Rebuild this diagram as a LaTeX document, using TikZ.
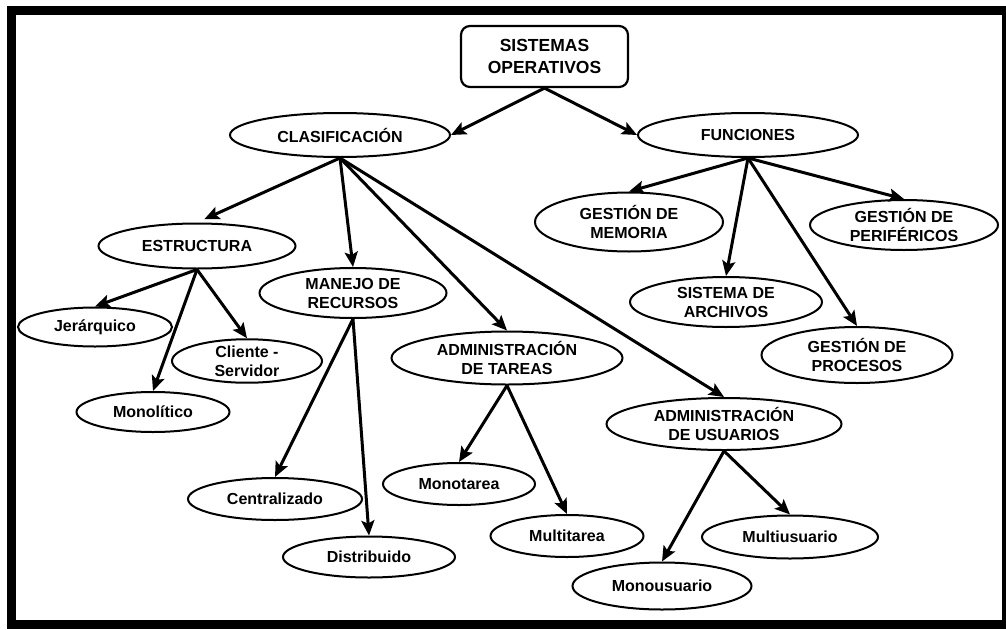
\documentclass[tikz,border=0pt]{standalone}
\usepackage{fontspec}
\setmainfont{Liberation Sans}
\usetikzlibrary{shapes.geometric,arrows.meta}
\begin{document}
\begin{tikzpicture}[x=1pt,y=-1pt,
  ov/.style={ellipse,draw=black,line width=2pt,inner sep=0pt,align=center,
    font=\fontsize{16}{19}\selectfont\bfseries},
  topbox/.style={rectangle,rounded corners=9pt,draw=black,line width=2.2pt,inner sep=0pt,
    align=center,font=\fontsize{17.5}{22}\selectfont\bfseries},
  arr/.style={line width=3pt,-{Stealth[length=15pt,width=13pt,inset=3pt]}},
]
\useasboundingbox (0,0) rectangle (1006,629);
\fill[white] (0,0) rectangle (1006,629);
% frame
\fill[black] (7,6) rectangle (1006,629);
\fill[white] (16,15) rectangle (1001.5,620);

% nodes
\node[topbox,minimum width=167pt,minimum height=61pt] (sis) at (544.5,56.5) {SISTEMAS\\OPERATIVOS};
\node[ov,minimum width=220pt,minimum height=44pt] (clas) at (340,135) {CLASIFICACIÓN};
\node[ov,minimum width=220pt,minimum height=44pt] (func) at (748,135) {FUNCIONES};

\node[ov,minimum width=197pt,minimum height=45pt] (estr) at (197,246) {ESTRUCTURA};
\node[ov,minimum width=154pt,minimum height=39pt] (jer) at (95,327) {Jerárquico};
\node[ov,minimum width=150pt,minimum height=42pt] (cli) at (247,361) {Cliente -\\Servidor};
\node[ov,minimum width=153pt,minimum height=40pt] (monol) at (153,412) {Monolítico};

\node[ov,minimum width=187pt,minimum height=50pt] (man) at (353,293) {MANEJO DE\\RECURSOS};
\node[ov,minimum width=174pt,minimum height=42pt] (cent) at (275,499) {Centralizado};
\node[ov,minimum width=172pt,minimum height=41pt] (dist) at (369,557) {Distribuido};

\node[ov,minimum width=231pt,minimum height=53pt] (adt) at (507,358) {ADMINISTRACIÓN\\DE TAREAS};
\node[ov,minimum width=152pt,minimum height=42pt] (motar) at (459,484) {Monotarea};
\node[ov,minimum width=153pt,minimum height=42pt] (mutar) at (567,536) {Multitarea};

\node[ov,minimum width=235pt,minimum height=52pt] (adu) at (724,424) {ADMINISTRACIÓN\\DE USUARIOS};
\node[ov,minimum width=176pt,minimum height=43pt] (muu) at (790,537) {Multiusuario};
\node[ov,minimum width=179pt,minimum height=47pt] (mou) at (662,586) {Monousuario};

\node[ov,minimum width=188pt,minimum height=59pt] (gm) at (629,222) {GESTIÓN DE\\MEMORIA};
\node[ov,minimum width=192pt,minimum height=50pt] (sa) at (726,302) {SISTEMA DE\\ARCHIVOS};
\node[ov,minimum width=191pt,minimum height=56pt] (gp) at (857,355) {GESTIÓN DE\\PROCESOS};
\node[ov,minimum width=188pt,minimum height=50pt] (gper) at (904,225) {GESTIÓN DE\\PERIFÉRICOS};

% connectors
\draw[arr] (sis.south) -- (clas.east);
\draw[arr] (sis.south) -- (func.west);

\draw[arr,shorten >=8pt] (clas.south) -- (estr.north);
\draw[arr] (clas.south) -- (man.north);
\draw[arr] (clas.south) -- (adt.north);
\draw[arr] (clas.south) -- (adu.north);

\draw[arr] (estr.south) -- (jer.north);
\draw[arr] (estr.south) -- (monol.north);
\draw[arr] (estr.south) -- (cli.north);

\draw[arr] (man.south) -- (cent.north);
\draw[arr] (man.south) -- (dist.north);

\draw[arr] (adt.south) -- (motar.north);
\draw[arr] (adt.south) -- (mutar.north);

\draw[arr] (adu.south) -- (mou.north);
\draw[arr] (adu.south) -- (muu.north);

\draw[arr] (func.south) -- (gm.north);
\draw[arr] (func.south) -- (sa.north);
\draw[arr] (func.south) -- (gp.north);
\draw[arr] (func.south) -- (gper.north);
\end{tikzpicture}
\end{document}
